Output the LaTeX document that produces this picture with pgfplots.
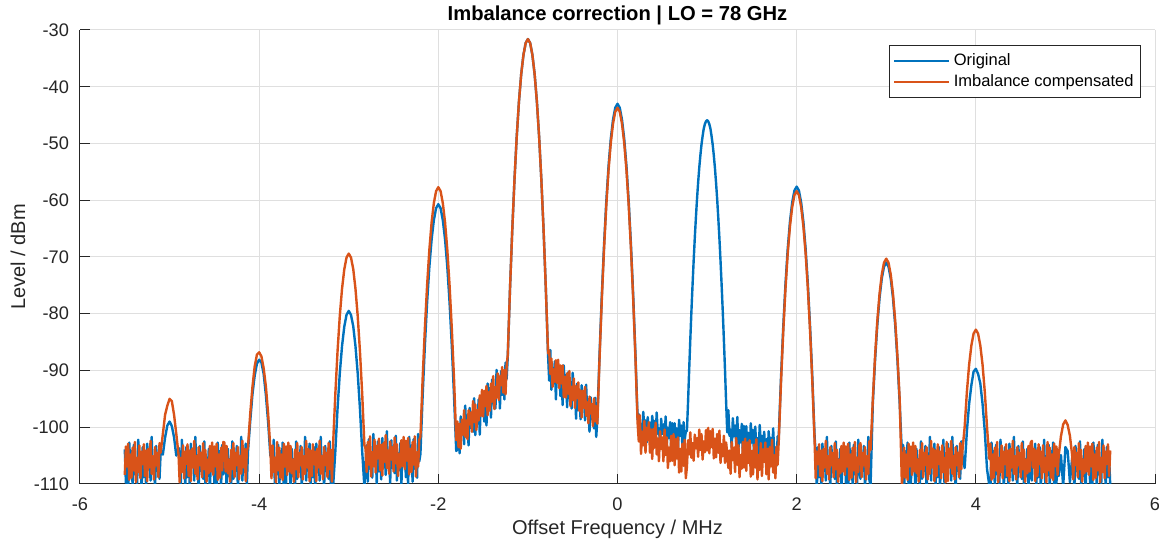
\documentclass[border=0pt]{standalone}
\usepackage{pgfplots}
\pgfplotsset{compat=1.18}
\usepackage{pgfplotstable}
\usepackage{fontspec}
\setmainfont{Liberation Sans}
\definecolor{mblue}{RGB}{0,114,189}
\definecolor{morange}{RGB}{217,83,25}
\definecolor{axgray}{RGB}{38,38,38}
\definecolor{gridgray}{RGB}{223,223,223}

\pgfplotstableread{
x b o
-5.5000 -103.9 -108.4
-5.4875 -109.8 -103.4
-5.4750 -105.3 -106.9
-5.4625 -111.2 -102.9
-5.4500 -102.7 -109.3
-5.4375 -107.4 -104.8
-5.4250 -104.2 -108.9
-5.4125 -110.6 -103.6
-5.4000 -103.1 -107.6
-5.3875 -108.3 -102.6
-5.3750 -105.8 -109.7
-5.3625 -109.9 -105.4
-5.3500 -102.2 -107.9
-5.3375 -107.0 -103.2
-5.3250 -104.7 -109.0
-5.3125 -111.0 -104.3
-5.3000 -103.5 -106.5
-5.2875 -108.8 -103.0
-5.2750 -105.1 -108.6
-5.2625 -110.2 -104.1
-5.2500 -102.9 -109.5
-5.2375 -106.6 -103.8
-5.2250 -104.4 -107.1
-5.2125 -109.4 -102.4
-5.2000 -101.7 -108.2
-5.1875 -108.0 -105.1
-5.1750 -106.3 -109.2
-5.1625 -110.8 -103.5
-5.1500 -103.3 -106.7
-5.1375 -107.7 -104.5
-5.1250 -104.9 -108.8
-5.1125 -109.1 -102.8
-5.100 -104.6 -104.5
-5.075 -104.8 -101.2
-5.050 -101.8 -97.8
-5.025 -99.7 -96.2
-5.000 -99.0 -95.0
-4.975 -99.8 -95.4
-4.950 -101.8 -97.8
-4.925 -105.0 -101.2
-4.900 -103.6 -104.8
-4.8875 -105.8 -109.7
-4.8750 -109.9 -105.4
-4.8625 -102.2 -107.9
-4.8500 -107.0 -103.2
-4.8375 -104.7 -109.0
-4.8250 -111.0 -104.3
-4.8125 -103.5 -106.5
-4.8000 -108.8 -103.0
-4.7875 -105.1 -108.6
-4.7750 -110.2 -104.1
-4.7625 -102.9 -109.5
-4.7500 -106.6 -103.8
-4.7375 -104.4 -107.1
-4.7250 -109.4 -102.4
-4.7125 -101.7 -108.2
-4.7000 -108.0 -105.1
-4.6875 -106.3 -109.2
-4.6750 -110.8 -103.5
-4.6625 -103.3 -106.7
-4.6500 -107.7 -104.5
-4.6375 -104.9 -108.8
-4.6250 -109.1 -102.8
-4.6125 -102.5 -107.4
-4.6000 -110.4 -104.0
-4.5875 -105.6 -109.6
-4.5750 -108.6 -105.7
-4.5625 -103.8 -108.1
-4.5500 -111.4 -103.3
-4.5375 -104.1 -107.8
-4.5250 -107.2 -102.7
-4.5125 -103.9 -108.4
-4.5000 -109.8 -103.4
-4.4875 -105.3 -106.9
-4.4750 -111.2 -102.9
-4.4625 -102.7 -109.3
-4.4500 -107.4 -104.8
-4.4375 -104.2 -108.9
-4.4250 -110.6 -103.6
-4.4125 -103.1 -107.6
-4.4000 -108.3 -102.6
-4.3875 -107.2 -102.7
-4.3750 -104.1 -107.8
-4.3625 -111.4 -103.3
-4.3500 -103.8 -108.1
-4.3375 -108.6 -105.7
-4.3250 -105.6 -109.6
-4.3125 -110.4 -104.0
-4.3000 -102.5 -107.4
-4.2875 -109.1 -102.8
-4.2750 -104.9 -108.8
-4.2625 -107.7 -104.5
-4.2500 -103.3 -106.7
-4.2375 -110.8 -103.5
-4.2250 -106.3 -109.2
-4.2125 -108.0 -105.1
-4.2000 -101.7 -108.2
-4.1875 -109.4 -102.4
-4.1750 -104.4 -107.1
-4.1625 -106.6 -103.8
-4.1500 -102.9 -109.5
-4.1375 -110.2 -104.1
-4.125 -104.3 -103.6
-4.100 -99.0 -97.7
-4.075 -94.2 -92.9
-4.050 -90.9 -89.3
-4.025 -88.8 -87.2
-4.000 -88.1 -86.8
-3.975 -88.6 -87.5
-3.950 -90.6 -89.6
-3.925 -94.3 -92.8
-3.900 -99.1 -97.6
-3.875 -105.0 -103.8
-3.8625 -104.7 -109.0
-3.8500 -107.0 -103.2
-3.8375 -102.2 -107.9
-3.8250 -109.9 -105.4
-3.8125 -105.8 -109.7
-3.8000 -108.3 -102.6
-3.7875 -103.1 -107.6
-3.7750 -110.6 -103.6
-3.7625 -104.2 -108.9
-3.7500 -107.4 -104.8
-3.7375 -102.7 -109.3
-3.7250 -111.2 -102.9
-3.7125 -105.3 -106.9
-3.7000 -109.8 -103.4
-3.6875 -103.9 -108.4
-3.6750 -107.2 -102.7
-3.6625 -104.1 -107.8
-3.6500 -111.4 -103.3
-3.6375 -103.8 -108.1
-3.6250 -108.6 -105.7
-3.6125 -105.6 -109.6
-3.6000 -110.4 -104.0
-3.5875 -102.5 -107.4
-3.5750 -109.1 -102.8
-3.5625 -104.9 -108.8
-3.5500 -107.7 -104.5
-3.5375 -103.3 -106.7
-3.5250 -110.8 -103.5
-3.5125 -106.3 -109.2
-3.5000 -108.0 -105.1
-3.4875 -101.7 -108.2
-3.4750 -109.4 -102.4
-3.4625 -104.4 -107.1
-3.4500 -106.6 -103.8
-3.4375 -102.9 -109.5
-3.4250 -110.2 -104.1
-3.4125 -105.1 -108.6
-3.4000 -108.8 -103.0
-3.3875 -103.5 -106.5
-3.3750 -111.0 -104.3
-3.3625 -102.9 -109.5
-3.3500 -106.6 -103.8
-3.3375 -104.4 -107.1
-3.3250 -109.4 -102.4
-3.3125 -101.7 -108.2
-3.3000 -108.0 -105.1
-3.2875 -106.3 -109.2
-3.2750 -110.8 -103.5
-3.2625 -103.3 -106.7
-3.2500 -107.7 -104.5
-3.2375 -104.9 -108.8
-3.2250 -109.1 -102.8
-3.2125 -102.5 -107.4
-3.2000 -110.4 -104.0
-3.1875 -105.6 -109.6
-3.175 -110.5 -103.1
-3.150 -104.3 -94.2
-3.125 -96.7 -86.6
-3.100 -90.5 -80.4
-3.075 -85.7 -75.6
-3.050 -82.3 -72.2
-3.025 -80.2 -70.1
-3.000 -79.5 -69.4
-2.975 -80.2 -70.1
-2.950 -82.2 -72.1
-2.925 -85.7 -75.6
-2.900 -90.5 -80.4
-2.875 -96.7 -86.6
-2.850 -104.2 -94.1
-2.825 -110.6 -103.2
-2.8125 -106.4 -103.8
-2.8000 -103.2 -107.9
-2.7875 -109.6 -102.6
-2.7750 -102.1 -106.6
-2.7625 -107.3 -101.6
-2.7500 -104.8 -108.7
-2.7375 -108.9 -104.4
-2.7250 -101.2 -106.9
-2.7125 -106.0 -102.2
-2.7000 -103.7 -108.0
-2.6875 -110.0 -103.3
-2.6750 -102.5 -105.5
-2.6625 -107.8 -102.0
-2.6500 -104.1 -107.6
-2.6375 -109.2 -103.1
-2.6250 -101.9 -108.5
-2.6125 -105.6 -102.8
-2.6000 -103.4 -106.1
-2.5875 -108.4 -101.4
-2.5750 -100.7 -107.2
-2.5625 -107.0 -104.1
-2.5500 -105.3 -108.2
-2.5375 -109.8 -102.5
-2.5250 -102.3 -105.7
-2.5125 -106.7 -103.5
-2.5000 -103.9 -107.8
-2.4875 -108.1 -101.8
-2.4750 -101.5 -106.4
-2.4625 -109.4 -103.0
-2.4500 -104.6 -108.6
-2.4375 -107.6 -104.7
-2.4250 -102.8 -107.1
-2.4125 -110.4 -102.3
-2.4000 -103.1 -106.8
-2.3875 -106.2 -101.7
-2.3750 -102.9 -107.4
-2.3625 -108.8 -102.4
-2.3500 -104.3 -105.9
-2.3375 -110.2 -101.9
-2.3250 -101.7 -108.3
-2.3125 -106.4 -103.8
-2.3000 -103.2 -107.9
-2.2875 -109.6 -102.6
-2.2750 -102.1 -106.6
-2.2625 -107.3 -101.6
-2.2500 -104.8 -108.7
-2.2375 -108.9 -104.4
-2.2250 -101.2 -106.9
-2.2125 -106.0 -102.2
-2.200 -104.7 -101.7
-2.175 -94.4 -91.4
-2.150 -85.5 -82.5
-2.125 -77.9 -74.9
-2.100 -71.7 -68.7
-2.075 -66.9 -63.9
-2.050 -63.5 -60.5
-2.025 -61.4 -58.4
-2.000 -60.7 -57.7
-1.975 -61.4 -58.4
-1.950 -63.5 -60.5
-1.925 -66.9 -63.9
-1.900 -71.7 -68.7
-1.875 -77.9 -74.9
-1.850 -85.5 -82.5
-1.825 -94.4 -91.4
-1.800 -104.2 -102.3
-1.7875 -103.9 -99.0
-1.7750 -100.5 -103.5
-1.7625 -104.6 -99.4
-1.7500 -98.1 -103.8
-1.7375 -101.1 -98.7
-1.7250 -99.0 -101.3
-1.7125 -103.0 -97.0
-1.7000 -96.2 -101.7
-1.6875 -101.3 -98.8
-1.6750 -99.6 -102.1
-1.6625 -103.2 -97.0
-1.6500 -96.6 -99.5
-1.6375 -100.1 -97.4
-1.6250 -97.5 -100.8
-1.6125 -100.8 -95.4
-1.6000 -94.9 -99.1
-1.5875 -101.4 -96.0
-1.5750 -97.1 -100.5
-1.5625 -99.4 -97.0
-1.5500 -95.1 -98.8
-1.5375 -101.3 -94.4
-1.5250 -94.9 -98.0
-1.5125 -97.3 -93.4
-1.5000 -94.2 -98.1
-1.4875 -99.0 -93.6
-1.4750 -94.9 -96.3
-1.4625 -99.7 -92.7
-1.4500 -92.3 -97.9
-1.4375 -96.0 -93.8
-1.4250 -93.1 -97.1
-1.4125 -98.3 -92.3
-1.4000 -91.6 -95.5
-1.3875 -95.8 -91.0
-1.3750 -93.5 -96.8
-1.3625 -96.7 -92.9
-1.3500 -89.9 -94.8
-1.3375 -93.8 -90.5
-1.3250 -91.6 -95.2
-1.3125 -96.7 -91.0
-1.3000 -90.1 -92.6
-1.2875 -94.3 -89.4
-1.2750 -91.0 -93.9
-1.2625 -95.1 -89.9
-1.2500 -88.6 -94.2
-1.2375 -91.5 -89.1
-1.225 -87.6 -87.3
-1.200 -75.6 -75.6
-1.175 -65.3 -65.3
-1.150 -56.4 -56.4
-1.125 -48.8 -48.8
-1.100 -42.6 -42.6
-1.075 -37.8 -37.8
-1.050 -34.4 -34.4
-1.025 -32.3 -32.3
-1.000 -31.6 -31.6
-0.975 -32.3 -32.3
-0.950 -34.4 -34.4
-0.925 -37.8 -37.8
-0.900 -42.6 -42.6
-0.875 -48.8 -48.8
-0.850 -56.4 -56.4
-0.825 -65.3 -65.3
-0.800 -75.6 -75.6
-0.775 -87.3 -87.0
-0.7625 -91.8 -86.5
-0.7500 -86.4 -90.6
-0.7375 -93.4 -87.9
-0.7250 -89.5 -92.9
-0.7125 -92.3 -89.8
-0.7000 -88.4 -92.0
-0.6875 -95.1 -88.2
-0.6750 -89.1 -92.2
-0.6625 -91.9 -88.1
-0.6500 -89.3 -93.1
-0.6375 -94.5 -89.1
-0.6250 -90.9 -92.3
-0.6125 -96.1 -89.1
-0.6000 -89.1 -94.7
-0.5875 -93.3 -91.1
-0.5750 -90.8 -94.8
-0.5625 -96.5 -90.5
-0.5500 -90.3 -94.1
-0.5375 -94.9 -90.1
-0.5250 -93.0 -96.3
-0.5125 -96.7 -92.9
-0.5000 -90.4 -95.2
-0.4875 -94.7 -91.4
-0.4750 -92.9 -96.6
-0.4625 -98.5 -92.8
-0.4500 -92.3 -94.9
-0.4375 -97.0 -92.1
-0.4250 -94.1 -97.1
-0.4125 -98.6 -93.5
-0.4000 -92.6 -98.3
-0.3875 -96.0 -93.6
-0.3750 -94.3 -96.6
-0.3625 -98.8 -92.9
-0.3500 -92.5 -98.0
-0.3375 -98.0 -95.6
-0.3250 -96.8 -99.3
-0.3125 -100.8 -94.6
-0.3000 -94.7 -97.6
-0.2875 -98.6 -95.9
-0.2750 -96.4 -99.8
-0.2625 -100.2 -94.9
-0.2500 -94.8 -99.0
-0.2375 -101.7 -96.3
-0.225 -98.7 -99.4
-0.200 -87.0 -87.7
-0.175 -76.7 -77.4
-0.150 -67.8 -68.5
-0.125 -60.2 -60.9
-0.100 -54.0 -54.7
-0.075 -49.2 -49.9
-0.050 -45.8 -46.5
-0.025 -43.7 -44.4
0.000 -43.0 -43.7
0.025 -43.7 -44.4
0.050 -45.8 -46.5
0.075 -49.2 -49.9
0.100 -54.0 -54.7
0.125 -60.2 -60.9
0.150 -67.8 -68.5
0.175 -76.7 -77.4
0.200 -87.0 -87.7
0.225 -98.7 -99.4
0.2375 -97.7 -102.5
0.2500 -100.8 -97.9
0.2625 -99.4 -104.7
0.2750 -101.9 -100.8
0.2875 -97.3 -103.2
0.3000 -100.2 -98.9
0.3125 -98.8 -104.5
0.3250 -102.7 -100.1
0.3375 -98.2 -102.3
0.3500 -101.4 -99.1
0.3625 -99.2 -104.5
0.3750 -102.3 -100.4
0.3875 -98.0 -105.6
0.4000 -100.2 -100.3
0.4125 -98.9 -103.6
0.4250 -102.0 -99.2
0.4375 -97.4 -104.8
0.4500 -101.2 -102.0
0.4625 -100.2 -106.0
0.4750 -103.0 -100.7
0.4875 -98.5 -103.8
0.5000 -101.2 -101.8
0.5125 -99.5 -106.0
0.5250 -102.1 -100.4
0.5375 -98.1 -104.9
0.5500 -102.9 -101.8
0.5625 -100.1 -107.2
0.5750 -101.9 -103.6
0.5875 -99.1 -106.0
0.6000 -103.7 -101.5
0.6125 -99.3 -105.9
0.6250 -101.2 -101.2
0.6375 -99.3 -106.7
0.6500 -102.8 -102.1
0.6625 -100.2 -105.5
0.6750 -103.8 -101.8
0.6875 -98.7 -108.0
0.7000 -101.5 -103.8
0.7125 -99.7 -107.8
0.7250 -103.5 -102.9
0.7375 -99.1 -106.8
0.7500 -102.2 -102.2
0.7625 -100.8 -109.0
0.7750 -100.6 -107.0
0.7875 -95.6 -102.3
0.8000 -89.9 -104.8
0.8125 -84.6 -100.9
0.8250 -79.6 -105.4
0.8375 -75.0 -102.8
0.8500 -70.7 -105.9
0.8625 -66.7 -101.3
0.8750 -63.1 -103.7
0.8875 -59.8 -101.9
0.9000 -56.9 -105.2
0.9125 -54.3 -100.4
0.9250 -52.1 -104.0
0.9375 -50.2 -101.2
0.9500 -48.7 -105.7
0.9625 -47.4 -102.5
0.9750 -46.6 -104.4
0.9875 -46.1 -100.5
1.0000 -45.9 -104.1
1.0125 -46.1 -100.1
1.0250 -46.6 -104.6
1.0375 -47.4 -100.7
1.0500 -48.7 -103.5
1.0625 -50.2 -100.3
1.0750 -52.1 -105.5
1.0875 -54.3 -102.0
1.1000 -56.9 -105.3
1.1125 -59.8 -101.2
1.1250 -63.1 -104.5
1.1375 -66.7 -100.6
1.1500 -70.7 -106.3
1.1625 -75.0 -103.0
1.1750 -79.6 -105.1
1.1875 -84.6 -101.5
1.2000 -89.9 -106.3
1.2125 -95.6 -102.7
1.2250 -100.9 -104.6
1.2375 -97.0 -107.2
1.2500 -101.5 -104.1
1.2625 -100.4 -108.2
1.2750 -103.6 -102.6
1.2875 -98.4 -105.8
1.3000 -101.6 -103.6
1.3125 -99.7 -107.9
1.3250 -102.7 -101.9
1.3375 -98.2 -106.6
1.3500 -103.8 -103.2
1.3625 -100.5 -108.8
1.3750 -102.7 -104.9
1.3875 -99.4 -107.3
1.4000 -104.8 -102.6
1.4125 -99.8 -107.1
1.4250 -102.0 -102.0
1.4375 -99.8 -107.7
1.4500 -104.0 -102.7
1.4625 -101.0 -106.3
1.4750 -105.2 -102.3
1.4875 -99.3 -108.7
1.5000 -102.7 -104.2
1.5125 -100.5 -108.3
1.5250 -105.1 -103.1
1.5375 -99.9 -107.1
1.5500 -103.6 -102.1
1.5625 -101.9 -109.2
1.5750 -104.9 -104.9
1.5875 -99.6 -107.5
1.6000 -103.0 -102.8
1.6125 -101.5 -108.6
1.6250 -106.0 -103.9
1.6375 -100.8 -106.1
1.6500 -104.6 -102.7
1.6625 -102.1 -108.3
1.6750 -105.7 -103.8
1.6875 -100.7 -109.2
1.7000 -103.4 -103.5
1.7125 -101.9 -106.9
1.7250 -105.5 -102.2
1.7375 -100.2 -108.0
1.7500 -104.7 -104.9
1.7625 -103.6 -109.0
1.7750 -106.8 -103.4
1.7875 -101.6 -106.6
1.800 -101.6 -102.4
1.825 -91.3 -92.1
1.850 -82.4 -83.2
1.875 -74.8 -75.6
1.900 -68.6 -69.4
1.925 -63.8 -64.6
1.950 -60.4 -61.2
1.975 -58.3 -59.1
2.000 -57.6 -58.4
2.025 -58.3 -59.1
2.050 -60.4 -61.2
2.075 -63.8 -64.6
2.100 -68.6 -69.4
2.125 -74.8 -75.6
2.150 -82.4 -83.2
2.175 -91.3 -92.1
2.200 -101.6 -102.4
2.2125 -104.7 -109.0
2.2250 -111.0 -104.3
2.2375 -103.5 -106.5
2.2500 -108.8 -103.0
2.2625 -105.1 -108.6
2.2750 -110.2 -104.1
2.2875 -102.9 -109.5
2.3000 -106.6 -103.8
2.3125 -104.4 -107.1
2.3250 -109.4 -102.4
2.3375 -101.7 -108.2
2.3500 -108.0 -105.1
2.3625 -106.3 -109.2
2.3750 -110.8 -103.5
2.3875 -103.3 -106.7
2.4000 -107.7 -104.5
2.4125 -104.9 -108.8
2.4250 -109.1 -102.8
2.4375 -102.5 -107.4
2.4500 -110.4 -104.0
2.4625 -105.6 -109.6
2.4750 -108.6 -105.7
2.4875 -103.8 -108.1
2.5000 -111.4 -103.3
2.5125 -104.1 -107.8
2.5250 -107.2 -102.7
2.5375 -103.9 -108.4
2.5500 -109.8 -103.4
2.5625 -105.3 -106.9
2.5750 -111.2 -102.9
2.5875 -102.7 -109.3
2.6000 -107.4 -104.8
2.6125 -104.2 -108.9
2.6250 -110.6 -103.6
2.6375 -103.1 -107.6
2.6500 -108.3 -102.6
2.6625 -105.8 -109.7
2.6750 -109.9 -105.4
2.6875 -102.2 -107.9
2.7000 -107.0 -103.2
2.7125 -109.1 -102.8
2.7250 -104.9 -108.8
2.7375 -107.7 -104.5
2.7500 -103.3 -106.7
2.7625 -110.8 -103.5
2.7750 -106.3 -109.2
2.7875 -108.0 -105.1
2.8000 -101.7 -108.2
2.8125 -109.4 -102.4
2.825 -110.2 -104.0
2.850 -95.8 -95.1
2.875 -88.2 -87.5
2.900 -82.0 -81.3
2.925 -77.2 -76.5
2.950 -73.8 -73.1
2.975 -71.7 -71.0
3.000 -71.0 -70.3
3.025 -71.7 -71.0
3.050 -73.8 -73.1
3.075 -77.2 -76.5
3.100 -82.0 -81.3
3.125 -88.2 -87.5
3.150 -95.8 -95.1
3.175 -104.7 -110.3
3.1875 -103.1 -107.6
3.2000 -110.6 -103.6
3.2125 -104.2 -108.9
3.2250 -107.4 -104.8
3.2375 -102.7 -109.3
3.2500 -111.2 -102.9
3.2625 -105.3 -106.9
3.2750 -109.8 -103.4
3.2875 -103.9 -108.4
3.3000 -107.2 -102.7
3.3125 -104.1 -107.8
3.3250 -111.4 -103.3
3.3375 -103.8 -108.1
3.3500 -108.6 -105.7
3.3625 -105.6 -109.6
3.3750 -110.4 -104.0
3.3875 -102.5 -107.4
3.4000 -109.1 -102.8
3.4125 -104.9 -108.8
3.4250 -107.7 -104.5
3.4375 -103.3 -106.7
3.4500 -110.8 -103.5
3.4625 -106.3 -109.2
3.4750 -108.0 -105.1
3.4875 -101.7 -108.2
3.5000 -109.4 -102.4
3.5125 -104.4 -107.1
3.5250 -106.6 -103.8
3.5375 -102.9 -109.5
3.5500 -110.2 -104.1
3.5625 -105.1 -108.6
3.5750 -108.8 -103.0
3.5875 -103.5 -106.5
3.6000 -111.0 -104.3
3.6125 -104.7 -109.0
3.6250 -107.0 -103.2
3.6375 -102.2 -107.9
3.6500 -109.9 -105.4
3.6625 -105.8 -109.7
3.6750 -108.3 -102.6
3.6875 -102.9 -109.5
3.7000 -106.6 -103.8
3.7125 -104.4 -107.1
3.7250 -109.4 -102.4
3.7375 -101.7 -108.2
3.7500 -108.0 -105.1
3.7625 -106.3 -109.2
3.7750 -110.8 -103.5
3.7875 -103.3 -106.7
3.8000 -107.7 -104.5
3.8125 -104.9 -108.8
3.8250 -109.1 -102.8
3.8375 -102.5 -107.4
3.850 -104.9 -104.2
3.875 -107.2 -100.0
3.900 -100.7 -93.8
3.925 -95.9 -89.0
3.950 -92.6 -85.6
3.975 -90.2 -83.5
4.000 -89.7 -82.8
4.025 -90.6 -83.5
4.050 -92.3 -85.6
4.075 -95.9 -89.0
4.100 -100.7 -93.8
4.125 -107.4 -100.0
4.150 -110.2 -105.6
4.1625 -111.2 -102.9
4.1750 -102.7 -109.3
4.1875 -107.4 -104.8
4.2000 -104.2 -108.9
4.2125 -110.6 -103.6
4.2250 -103.1 -107.6
4.2375 -108.3 -102.6
4.2500 -105.8 -109.7
4.2625 -109.9 -105.4
4.2750 -102.2 -107.9
4.2875 -107.0 -103.2
4.3000 -104.7 -109.0
4.3125 -111.0 -104.3
4.3250 -103.5 -106.5
4.3375 -108.8 -103.0
4.3500 -105.1 -108.6
4.3625 -110.2 -104.1
4.3750 -102.9 -109.5
4.3875 -106.6 -103.8
4.4000 -104.4 -107.1
4.4125 -109.4 -102.4
4.4250 -101.7 -108.2
4.4375 -108.0 -105.1
4.4500 -106.3 -109.2
4.4625 -110.8 -103.5
4.4750 -103.3 -106.7
4.4875 -107.7 -104.5
4.5000 -104.9 -108.8
4.5125 -109.1 -102.8
4.5250 -102.5 -107.4
4.5375 -110.4 -104.0
4.5500 -105.6 -109.6
4.5625 -108.6 -105.7
4.5750 -103.8 -108.1
4.5875 -111.4 -103.3
4.6000 -104.1 -107.8
4.6125 -107.2 -102.7
4.6250 -109.4 -102.4
4.6375 -104.4 -107.1
4.6500 -106.6 -103.8
4.6625 -102.9 -109.5
4.6750 -110.2 -104.1
4.6875 -105.1 -108.6
4.7000 -108.8 -103.0
4.7125 -103.5 -106.5
4.7250 -111.0 -104.3
4.7375 -104.7 -109.0
4.7500 -107.0 -103.2
4.7625 -102.2 -107.9
4.7750 -109.9 -105.4
4.7875 -105.8 -109.7
4.8000 -108.3 -102.6
4.8125 -103.1 -107.6
4.8250 -110.6 -103.6
4.8375 -104.2 -108.9
4.8500 -107.4 -104.8
4.8625 -102.7 -109.3
4.8750 -111.2 -102.9
4.8875 -105.3 -106.9
4.9000 -109.8 -103.4
4.9125 -103.9 -108.4
4.925 -108.6 -105.0
4.950 -104.9 -101.6
4.975 -110.4 -99.5
5.000 -103.5 -98.8
5.025 -104.2 -99.6
5.050 -109.7 -101.5
5.075 -105.4 -104.9
5.0875 -106.3 -109.2
5.1000 -110.8 -103.5
5.1125 -103.3 -106.7
5.1250 -107.7 -104.5
5.1375 -104.9 -108.8
5.1500 -109.1 -102.8
5.1625 -102.5 -107.4
5.1750 -110.4 -104.0
5.1875 -105.6 -109.6
5.2000 -108.6 -105.7
5.2125 -103.8 -108.1
5.2250 -111.4 -103.3
5.2375 -104.1 -107.8
5.2500 -107.2 -102.7
5.2625 -103.9 -108.4
5.2750 -109.8 -103.4
5.2875 -105.3 -106.9
5.3000 -111.2 -102.9
5.3125 -102.7 -109.3
5.3250 -107.4 -104.8
5.3375 -104.2 -108.9
5.3500 -110.6 -103.6
5.3625 -103.1 -107.6
5.3750 -108.3 -102.6
5.3875 -105.8 -109.7
5.4000 -109.9 -105.4
5.4125 -102.2 -107.9
5.4250 -107.0 -103.2
5.4375 -104.7 -109.0
5.4500 -111.0 -104.3
5.4625 -103.5 -106.5
5.4750 -108.8 -103.0
5.4875 -105.1 -108.6
5.5000 -110.2 -104.1
}\spec

\begin{document}
\begin{tikzpicture}
\begin{axis}[
  scale only axis, width=537.5pt, height=227pt,
  xmin=-6, xmax=6, ymin=-110, ymax=-30,
  xtick={-6,-4,-2,0,2,4,6}, xticklabels={-6,-4,-2,0,2,4,6},
  ytick={-110,-100,-90,-80,-70,-60,-50,-40,-30},
  yticklabels={-110,-100,-90,-80,-70,-60,-50,-40,-30},
  axis x line*=bottom, axis y line*=left,
  axis line style={-, axgray, line width=0.5pt},
  tick align=inside, major tick length=5pt,
  tick style={axgray, line width=0.5pt},
  grid=major, grid style={gridgray, line width=0.5pt},
  ticklabel style={font=\fontsize{9.1}{11}\selectfont, text=axgray},
  xticklabel style={yshift=-3.5pt},
  yticklabel style={xshift=-2pt},
  xlabel={Offset Frequency / MHz}, ylabel={Level / dBm},
  label style={font=\fontsize{10}{12}\selectfont, text=axgray},
  xlabel style={at={(axis description cs:0.5,-0.101)}, anchor=center},
  ylabel style={at={(axis description cs:-0.0577,0.5)}, anchor=center},
  title={Imbalance correction | LO = 78 GHz},
  every axis title/.style={at={(axis description cs:0.5,1.033)}, anchor=center,
    font=\bfseries\fontsize{10.1}{12}\selectfont, text=black},
  legend cell align=left,
  legend image code/.code={\draw[#1, line width=1.3pt] (0pt,0pt) -- (27.5pt,0pt);},
  legend style={at={(axis description cs:0.987,0.967)}, anchor=north east,
    draw=axgray, line width=0.5pt, fill=white,
    font=\fontsize{8.25}{10}\selectfont, text=black,
    inner xsep=2pt, inner ysep=2.5pt, row sep=0pt,
    nodes={inner sep=1.5pt}},
]
\addplot[mblue, line width=1.2pt, line join=round] table[x=x, y=b] {\spec};
\addlegendentry{Original}
\addplot[morange, line width=1.2pt, line join=round] table[x=x, y=o] {\spec};
\addlegendentry{Imbalance compensated}
\end{axis}
\pgfresetboundingbox
\path[use as bounding box] ([xshift=-40pt,yshift=-30pt]current axis.south west) rectangle ([xshift=2pt,yshift=15pt]current axis.north east);
\end{tikzpicture}
\end{document}
